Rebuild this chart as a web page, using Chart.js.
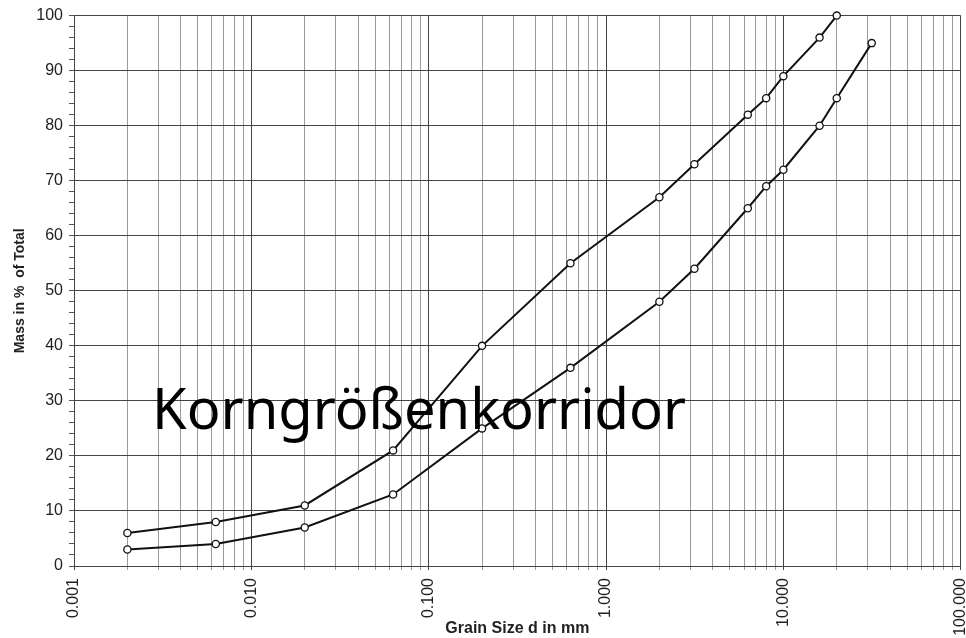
<!DOCTYPE html>
<html>
<head>
<meta charset="utf-8">
<script src="https://cdn.jsdelivr.net/npm/chart.js@4.4.0/dist/chart.umd.min.js"></script>
<style>
    body { margin: 0; background: #fff; }
    #wrap { position: relative; width: 966px; height: 638px; }
    #over {
        position: absolute; left: 152px; top: 379px;
        font-family: "Noto Sans", "Open Sans", sans-serif; font-size: 56px;
        color: #000; white-space: nowrap; line-height: 1;
    }
</style>
</head>
<body>
<div id="wrap">
    <canvas id="sieve" width="966" height="638"></canvas>
    <div id="over">Korngrößenkorridor</div>
</div>
<script>
// grain sizes (mm) and passing mass (%)
const upperSizes = [0.002, 0.0063, 0.02, 0.063, 0.2, 0.63, 2, 3.15, 6.3, 8, 10, 16, 20]
const upperMass = [6, 8, 11, 21, 40, 55, 67, 73, 82, 85, 89, 96, 100]
const lowerSizes = [0.002, 0.0063, 0.02, 0.063, 0.2, 0.63, 2, 3.15, 6.3, 8, 10, 16, 20, 31.5]
const lowerMass = [3, 4, 7, 13, 25, 36, 48, 54, 65, 69, 72, 80, 85, 95]
const decades = [0.001, 0.01, 0.1, 1, 10, 100]

const isDecade = (v) => decades.some(d => Math.abs(v - d) / d < 1e-6)

const lineStyle = {
    borderColor: '#111',
    borderWidth: 2,
    pointRadius: 3.6,
    pointBackgroundColor: '#fff',
    pointBorderColor: '#111',
    pointBorderWidth: 1.3,
    tension: 0,
    clip: false
}

const ctx = document.getElementById('sieve');
new Chart(ctx, {
    type: 'line',
    data: {
        datasets: [{
            label: 'upper',
            data: upperSizes.map((s, i) => ({ x: s, y: upperMass[i] })),
            ...lineStyle
        }, {
            label: 'lower',
            data: lowerSizes.map((s, i) => ({ x: s, y: lowerMass[i] })),
            ...lineStyle
        }]
    },
    options: {
        responsive: false,
        animation: false,
        layout: { padding: { top: 15, right: -3, left: 0, bottom: 0 } },
        plugins: {
            legend: { display: false },
            tooltip: { enabled: false }
        },
        scales: {
            x: {
                type: 'logarithmic',
                min: 0.001,
                max: 100,
                afterBuildTicks: (scale) => {
                    const t = []
                    for (let k = 0; k < 5; k++) {
                        for (let m = 1; m < 10; m++) {
                            t.push({ value: m * decades[k] })
                        }
                    }
                    t.push({ value: 100 })
                    scale.ticks = t
                },
                afterFit: (scale) => {
                    scale.height = 72
                    scale.paddingLeft = 0
                    scale.paddingRight = 0
                },
                ticks: {
                    autoSkip: false,
                    minRotation: 90,
                    maxRotation: 90,
                    padding: 8,
                    color: '#222',
                    font: { family: 'Liberation Sans, Arial', size: 16 },
                    callback: (v) => isDecade(v) ? v.toFixed(3) : ''
                },
                grid: {
                    color: (c) => isDecade(c.tick.value) ? '#444' : '#9a9a9a',
                    tickLength: 4,
                    lineWidth: 1
                },
                border: { color: '#444' },
                title: {
                    display: true,
                    text: 'Grain Size d in mm',
                    color: '#222',
                    padding: { top: 0, bottom: 0 },
                    font: { family: 'Liberation Sans, Arial', size: 16, weight: 'bold' }
                }
            },
            y: {
                min: 0,
                max: 100,
                afterFit: (scale) => { scale.width = 74 },
                ticks: {
                    stepSize: 2,
                    autoSkip: false,
                    padding: 6,
                    color: '#222',
                    font: { family: 'Liberation Sans, Arial', size: 16 },
                    callback: (v) => v % 10 == 0 ? v : ''
                },
                grid: {
                    color: (c) => c.tick.value % 10 == 0 ? '#444' : 'rgba(0,0,0,0)',
                    tickColor: '#555',
                    tickLength: 5
                },
                border: { color: '#444' },
                title: {
                    display: true,
                    text: 'Mass in %  of Total',
                    color: '#222',
                    padding: { top: 12, bottom: 0 },
                    font: { family: 'Liberation Sans, Arial', size: 14, weight: 'bold' }
                }
            }
        }
    }
});
</script>
</body>
</html>
